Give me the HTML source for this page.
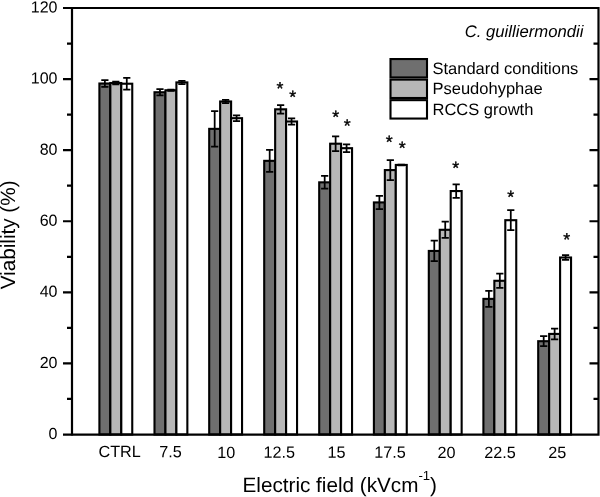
<!DOCTYPE html>
<html lang="en"><head><meta charset="utf-8"><title>Viability vs electric field</title>
<style>html,body{margin:0;padding:0;background:#fff}body{width:600px;height:497px;overflow:hidden}svg{display:block;will-change:transform}text{font-family:"Liberation Sans", Arial, Helvetica, sans-serif;fill:#000;text-rendering:geometricPrecision}</style></head><body>
<svg width="600" height="497" viewBox="0 0 600 497">
<rect width="600" height="497" fill="#fff"/>
<g stroke="#000" stroke-width="2.1">
<rect x="99.40" y="83.51" width="10.95" height="350.99" fill="#6f6f6f"/>
<rect x="110.35" y="83.01" width="10.95" height="351.49" fill="#b7b7b7"/>
<rect x="121.30" y="83.72" width="10.95" height="350.78" fill="#ffffff"/>
<rect x="154.50" y="92.25" width="10.95" height="342.25" fill="#6f6f6f"/>
<rect x="165.45" y="90.26" width="10.95" height="344.24" fill="#b7b7b7"/>
<rect x="176.40" y="82.41" width="10.95" height="352.09" fill="#ffffff"/>
<rect x="209.20" y="128.86" width="10.95" height="305.64" fill="#6f6f6f"/>
<rect x="220.15" y="101.49" width="10.95" height="333.01" fill="#b7b7b7"/>
<rect x="231.10" y="118.19" width="10.95" height="316.31" fill="#ffffff"/>
<rect x="264.20" y="160.84" width="10.95" height="273.66" fill="#6f6f6f"/>
<rect x="275.15" y="109.31" width="10.95" height="325.19" fill="#b7b7b7"/>
<rect x="286.10" y="121.50" width="10.95" height="313.00" fill="#ffffff"/>
<rect x="319.20" y="182.34" width="10.95" height="252.16" fill="#6f6f6f"/>
<rect x="330.15" y="143.71" width="10.95" height="290.79" fill="#b7b7b7"/>
<rect x="341.10" y="148.19" width="10.95" height="286.31" fill="#ffffff"/>
<rect x="373.90" y="202.42" width="10.95" height="232.08" fill="#6f6f6f"/>
<rect x="384.85" y="170.08" width="10.95" height="264.42" fill="#b7b7b7"/>
<rect x="395.80" y="164.93" width="10.95" height="269.57" fill="#ffffff"/>
<rect x="428.80" y="250.94" width="10.95" height="183.56" fill="#6f6f6f"/>
<rect x="439.75" y="229.79" width="10.95" height="204.71" fill="#b7b7b7"/>
<rect x="450.70" y="191.05" width="10.95" height="243.45" fill="#ffffff"/>
<rect x="483.40" y="298.88" width="10.95" height="135.62" fill="#6f6f6f"/>
<rect x="494.35" y="280.79" width="10.95" height="153.71" fill="#b7b7b7"/>
<rect x="505.30" y="220.19" width="10.95" height="214.31" fill="#ffffff"/>
<rect x="538.20" y="341.21" width="10.95" height="93.29" fill="#6f6f6f"/>
<rect x="549.15" y="333.92" width="10.95" height="100.58" fill="#b7b7b7"/>
<rect x="560.10" y="257.51" width="10.95" height="176.99" fill="#ffffff"/>
</g>
<g stroke="#000" stroke-width="1.75" fill="none">
<path d="M104.88 80.13V86.88M101.28 80.13H108.47M101.28 86.88H108.47"/>
<path d="M115.83 81.66V84.36M112.23 81.66H119.42M112.23 84.36H119.42"/>
<path d="M126.78 77.86V89.58M123.18 77.86H130.38M123.18 89.58H130.38"/>
<path d="M159.97 89.05V95.45M156.38 89.05H163.57M156.38 95.45H163.57"/>
<path d="M170.92 89.55V90.97M167.32 89.55H174.52M167.32 90.97H174.52"/>
<path d="M181.88 80.81V84.00M178.28 80.81H185.47M178.28 84.00H185.47"/>
<path d="M214.67 111.09V146.63M211.07 111.09H218.27M211.07 146.63H218.27"/>
<path d="M225.62 99.89V103.09M222.02 99.89H229.22M222.02 103.09H229.22"/>
<path d="M236.57 115.35V121.04M232.97 115.35H240.17M232.97 121.04H240.17"/>
<path d="M269.68 149.82V171.86M266.07 149.82H273.28M266.07 171.86H273.28"/>
<path d="M280.62 105.04V113.57M277.02 105.04H284.23M277.02 113.57H284.23"/>
<path d="M291.57 118.48V124.52M287.97 118.48H295.18M287.97 124.52H295.18"/>
<path d="M324.68 175.95V188.74M321.07 175.95H328.28M321.07 188.74H328.28"/>
<path d="M335.62 136.25V151.18M332.02 136.25H339.23M332.02 151.18H339.23"/>
<path d="M346.57 144.28V152.10M342.97 144.28H350.18M342.97 152.10H350.18"/>
<path d="M379.38 195.85V209.00M375.77 195.85H382.98M375.77 209.00H382.98"/>
<path d="M390.32 160.13V180.03M386.72 160.13H393.93M386.72 180.03H393.93"/>
<path d="M401.27 164.50V165.36M397.67 164.50H404.88M397.67 165.36H404.88"/>
<path d="M434.28 240.63V261.24M430.68 240.63H437.88M430.68 261.24H437.88"/>
<path d="M445.23 221.62V237.96M441.62 221.62H448.83M441.62 237.96H448.83"/>
<path d="M456.18 184.30V197.80M452.57 184.30H459.78M452.57 197.80H459.78"/>
<path d="M488.88 290.88V306.88M485.27 290.88H492.48M485.27 306.88H492.48"/>
<path d="M499.82 273.68V287.90M496.22 273.68H503.43M496.22 287.90H503.43"/>
<path d="M510.77 210.24V230.15M507.17 210.24H514.38M507.17 230.15H514.38"/>
<path d="M543.68 336.23V346.18M540.08 336.23H547.28M540.08 346.18H547.28"/>
<path d="M554.63 328.59V339.25M551.03 328.59H558.23M551.03 339.25H558.23"/>
<path d="M565.58 255.20V259.82M561.98 255.20H569.18M561.98 259.82H569.18"/>
</g>
<g stroke="#000" stroke-width="2.2" fill="none">
<path d="M63.00 8.00H598.50V434.70H63.00V434.70"/>
<path d="M72.00 7.00V435.50"/>
<path d="M67.00 398.96H72.00M593.50 398.96H598.50M63.00 363.42H72.00M589.50 363.42H598.50M67.00 327.88H72.00M593.50 327.88H598.50M63.00 292.34H72.00M589.50 292.34H598.50M67.00 256.80H72.00M593.50 256.80H598.50M63.00 221.26H72.00M589.50 221.26H598.50M67.00 185.72H72.00M593.50 185.72H598.50M63.00 150.18H72.00M589.50 150.18H598.50M67.00 114.64H72.00M593.50 114.64H598.50M63.00 79.10H72.00M589.50 79.10H598.50M67.00 43.56H72.00M593.50 43.56H598.50"/>
</g>
<g font-size="16" text-anchor="end">
<text x="57.5" y="439.00" transform="rotate(.05 57.5 439.00)">0</text>
<text x="57.5" y="367.92" transform="rotate(.05 57.5 367.92)">20</text>
<text x="57.5" y="296.84" transform="rotate(.05 57.5 296.84)">40</text>
<text x="57.5" y="225.76" transform="rotate(.05 57.5 225.76)">60</text>
<text x="57.5" y="154.68" transform="rotate(.05 57.5 154.68)">80</text>
<text x="57.5" y="83.60" transform="rotate(.05 57.5 83.60)">100</text>
<text x="57.5" y="12.52" transform="rotate(.05 57.5 12.52)">120</text>
</g>
<g font-size="16.2" text-anchor="middle">
<text x="119.7" y="457.1" transform="rotate(.05 119.7 457.1)">CTRL</text>
<text x="170.5" y="457.2" transform="rotate(.05 170.5 457.2)">7.5</text>
<text x="226.3" y="457.9" transform="rotate(.05 226.3 457.9)">10</text>
<text x="279.2" y="457.7" transform="rotate(.05 279.2 457.7)">12.5</text>
<text x="336.6" y="457.7" transform="rotate(.05 336.6 457.7)">15</text>
<text x="390.0" y="457.7" transform="rotate(.05 390.0 457.7)">17.5</text>
<text x="446.6" y="457.9" transform="rotate(.05 446.6 457.9)">20</text>
<text x="500.0" y="457.9" transform="rotate(.05 500.0 457.9)">22.5</text>
<text x="557.3" y="457.9" transform="rotate(.05 557.3 457.9)">25</text>
</g>
<g font-size="17.8" text-anchor="middle" stroke="#000" stroke-width=".4">
<text x="279.9" y="94.46" transform="rotate(.05 279.9 94.46)">*</text>
<text x="292.6" y="103.00" transform="rotate(.05 292.6 103.00)">*</text>
<text x="335.6" y="123.10" transform="rotate(.05 335.6 123.10)">*</text>
<text x="347.1" y="131.80" transform="rotate(.05 347.1 131.80)">*</text>
<text x="389.1" y="148.10" transform="rotate(.05 389.1 148.10)">*</text>
<text x="402.2" y="153.90" transform="rotate(.05 402.2 153.90)">*</text>
<text x="455.7" y="174.00" transform="rotate(.05 455.7 174.00)">*</text>
<text x="510.7" y="203.10" transform="rotate(.05 510.7 203.10)">*</text>
<text x="566.6" y="245.40" transform="rotate(.05 566.6 245.40)">*</text>
</g>
<g stroke="#000" stroke-width="2.1">
<rect x="390.5" y="59.05" width="36.5" height="18.4" fill="#6f6f6f"/>
<rect x="390.5" y="79.60" width="36.5" height="18.4" fill="#b7b7b7"/>
<rect x="390.5" y="100.15" width="36.5" height="18.4" fill="#ffffff"/>
</g>
<g font-size="16.5">
<text x="432.5" y="73.70">Standard conditions</text>
<text x="432.5" y="94.25">Pseudohyphae</text>
<text x="432.5" y="114.80">RCCS growth</text>
</g>
<text x="583.4" y="36.6" font-size="16.7" font-style="italic" text-anchor="end">C. guilliermondii</text>
<text x="242.5" y="492.1" font-size="20.7">Electric field (kVcm<tspan font-size="13.2" dy="-11.9">-1</tspan><tspan dy="11.9">)</tspan></text>
<text transform="translate(15.2 289.3) rotate(-90)" font-size="20.7">Viability (%)</text>
</svg></body></html>
